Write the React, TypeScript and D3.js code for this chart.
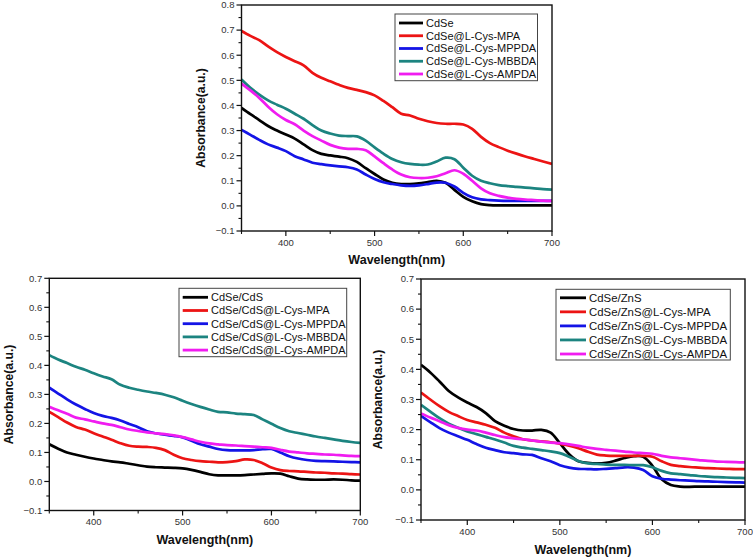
import React from "react";
import * as d3 from "d3";

// ---------- DATA ----------
const wavelengths = [350,360,370,380,390,400,410,420,430,440,450,460,470,480,490,500,510,520,530,540,550,560,570,580,590,600,610,620,630,640,650,660,670,680,690,700];

const xTicks = [400, 500, 600, 700];

// Top panel: CdSe
const cdseNames = ["CdSe", "CdSe@L-Cys-MPA", "CdSe@L-Cys-MPPDA", "CdSe@L-Cys-MBBDA", "CdSe@L-Cys-AMPDA"];
const cdse = [0.39,0.365,0.342,0.318,0.30,0.284,0.268,0.245,0.222,0.207,0.201,0.196,0.19,0.175,0.15,0.127,0.105,0.092,0.087,0.087,0.09,0.095,0.1,0.092,0.064,0.036,0.018,0.007,0.003,0.002,0.002,0.002,0.002,0.002,0.002,0.002];
const cdseMPA = [0.697,0.677,0.66,0.635,0.612,0.593,0.576,0.56,0.53,0.51,0.496,0.482,0.47,0.462,0.453,0.44,0.418,0.393,0.367,0.36,0.347,0.337,0.33,0.327,0.327,0.324,0.307,0.275,0.25,0.234,0.22,0.208,0.197,0.187,0.177,0.167];
const cdseMPPDA = [0.303,0.283,0.263,0.245,0.232,0.218,0.198,0.185,0.172,0.166,0.161,0.157,0.154,0.145,0.125,0.107,0.094,0.087,0.082,0.08,0.082,0.087,0.093,0.092,0.077,0.052,0.034,0.026,0.023,0.021,0.02,0.02,0.02,0.02,0.02,0.02];
const cdseMBBDA = [0.503,0.47,0.443,0.42,0.403,0.387,0.367,0.347,0.322,0.30,0.288,0.28,0.278,0.277,0.26,0.233,0.208,0.187,0.174,0.167,0.164,0.165,0.177,0.192,0.186,0.152,0.12,0.10,0.09,0.083,0.079,0.076,0.073,0.07,0.067,0.065];
const cdseAMPDA = [0.487,0.46,0.43,0.395,0.365,0.342,0.325,0.30,0.278,0.26,0.243,0.232,0.227,0.227,0.222,0.197,0.17,0.145,0.125,0.114,0.111,0.112,0.118,0.13,0.142,0.128,0.10,0.07,0.05,0.04,0.033,0.028,0.025,0.023,0.021,0.02];

// Bottom-left panel: CdSe/CdS
const cdsNames = ["CdSe/CdS", "CdSe/CdS@L-Cys-MPA", "CdSe/CdS@L-Cys-MPPDA", "CdSe/CdS@L-Cys-MBBDA", "CdSe/CdS@L-Cys-AMPDA"];
const cds = [0.128,0.113,0.1,0.092,0.085,0.079,0.074,0.069,0.066,0.061,0.056,0.051,0.049,0.048,0.047,0.045,0.04,0.033,0.025,0.021,0.021,0.021,0.022,0.024,0.026,0.028,0.027,0.018,0.01,0.007,0.006,0.006,0.007,0.006,0.004,0.003];
const cdsMPA = [0.24,0.222,0.203,0.188,0.179,0.166,0.155,0.144,0.132,0.123,0.12,0.119,0.116,0.108,0.092,0.08,0.074,0.07,0.068,0.066,0.067,0.07,0.076,0.074,0.063,0.048,0.039,0.036,0.035,0.033,0.031,0.03,0.028,0.027,0.025,0.024];
const cdsMPPDA = [0.323,0.303,0.283,0.265,0.25,0.236,0.226,0.219,0.21,0.198,0.187,0.173,0.166,0.161,0.157,0.152,0.14,0.128,0.12,0.112,0.108,0.107,0.107,0.108,0.111,0.112,0.1,0.087,0.079,0.074,0.071,0.07,0.069,0.068,0.067,0.066];
const cdsMBBDA = [0.435,0.42,0.408,0.395,0.385,0.373,0.362,0.352,0.333,0.323,0.316,0.31,0.305,0.299,0.29,0.278,0.267,0.257,0.248,0.24,0.238,0.234,0.232,0.229,0.214,0.199,0.184,0.173,0.167,0.161,0.155,0.15,0.145,0.14,0.136,0.133];
const cdsAMPDA = [0.257,0.245,0.233,0.22,0.214,0.207,0.2,0.195,0.187,0.179,0.174,0.169,0.166,0.163,0.159,0.153,0.145,0.137,0.131,0.128,0.125,0.124,0.122,0.12,0.118,0.116,0.109,0.103,0.1,0.097,0.095,0.093,0.092,0.09,0.088,0.087];

// Bottom-right panel: CdSe/ZnS
const znsNames = ["CdSe/ZnS", "CdSe/ZnS@L-Cys-MPA", "CdSe/ZnS@L-Cys-MPPDA", "CdSe/ZnS@L-Cys-MBBDA", "CdSe/ZnS@L-Cys-AMPDA"];
const zns = [0.415,0.39,0.36,0.328,0.307,0.29,0.275,0.255,0.228,0.213,0.202,0.197,0.197,0.199,0.19,0.155,0.118,0.095,0.09,0.088,0.09,0.097,0.106,0.112,0.11,0.08,0.035,0.016,0.011,0.01,0.011,0.011,0.011,0.011,0.011,0.011];
const znsMPA = [0.323,0.3,0.278,0.259,0.245,0.232,0.224,0.216,0.206,0.19,0.178,0.168,0.164,0.161,0.158,0.153,0.147,0.138,0.127,0.117,0.114,0.113,0.113,0.113,0.113,0.11,0.095,0.083,0.079,0.076,0.074,0.072,0.071,0.07,0.069,0.069];
const znsMPPDA = [0.246,0.225,0.205,0.19,0.178,0.166,0.152,0.14,0.132,0.125,0.122,0.118,0.116,0.105,0.095,0.082,0.074,0.07,0.069,0.068,0.07,0.072,0.075,0.074,0.066,0.045,0.037,0.034,0.032,0.031,0.029,0.028,0.027,0.026,0.025,0.024];
const znsMBBDA = [0.282,0.26,0.238,0.22,0.206,0.194,0.185,0.176,0.167,0.157,0.146,0.14,0.136,0.132,0.128,0.122,0.11,0.096,0.088,0.086,0.084,0.083,0.083,0.082,0.082,0.075,0.063,0.055,0.052,0.049,0.046,0.044,0.042,0.041,0.04,0.039];
const znsAMPDA = [0.254,0.24,0.228,0.215,0.206,0.2,0.197,0.19,0.182,0.175,0.171,0.168,0.164,0.16,0.157,0.155,0.151,0.146,0.14,0.136,0.133,0.13,0.127,0.124,0.122,0.12,0.113,0.108,0.105,0.102,0.099,0.096,0.094,0.093,0.092,0.091];

// ---------- STYLE ----------
const COLORS = ["#000000", "#ec1414", "#1414e6", "#1c8480", "#f01cf0"];
const FONT = "'Liberation Sans', Arial, sans-serif";

type Panel = {
  left: number; right: number; top: number; bottom: number;
  yMax: number;
  names: string[];
  series: number[][];
  legend: { x0: number; x1: number; y0: number; y1: number; firstY: number; step: number; lineX0: number; lineX1: number; textX: number; fontSize: number };
  yLabelX: number;
  xLabelY: number;
};

const panels: Panel[] = [
  {
    left: 241.5, right: 552, top: 5, bottom: 231, yMax: 0.8,
    names: cdseNames, series: [cdse, cdseMPA, cdseMPPDA, cdseMBBDA, cdseAMPDA],
    legend: { x0: 395, x1: 537.5, y0: 14, y1: 80.7, firstY: 23, step: 12.75, lineX0: 399, lineX1: 423, textX: 426, fontSize: 11 },
    yLabelX: 201, xLabelY: 264,
  },
  {
    left: 49.3, right: 360.3, top: 278.3, bottom: 510.5, yMax: 0.7,
    names: cdsNames, series: [cds, cdsMPA, cdsMPPDA, cdsMBBDA, cdsAMPDA],
    legend: { x0: 179, x1: 346.7, y0: 288.3, y1: 356.7, firstY: 297.3, step: 13.2, lineX0: 182.7, lineX1: 208, textX: 211, fontSize: 11 },
    yLabelX: 8.5, xLabelY: 544,
  },
  {
    left: 421, right: 745, top: 279, bottom: 520, yMax: 0.7,
    names: znsNames, series: [zns, znsMPA, znsMPPDA, znsMBBDA, znsAMPDA],
    legend: { x0: 556, x1: 730.3, y0: 289.3, y1: 360, firstY: 297.8, step: 14.05, lineX0: 560, lineX1: 586, textX: 589, fontSize: 11.4 },
    yLabelX: 378, xLabelY: 554,
  },
];

function PanelView({ p }: { p: Panel }) {
  const x = d3.scaleLinear().domain([350, 700]).range([p.left, p.right]);
  const y = d3.scaleLinear().domain([-0.1, p.yMax]).range([p.bottom, p.top]);
  const line = d3
    .line<number>()
    .x((_, i) => x(wavelengths[i]))
    .y((v) => y(v))
    .curve(d3.curveCatmullRom.alpha(0.5));

  const yMajor = d3.range(-0.1, p.yMax + 0.0001, 0.1).map((v) => Math.round(v * 10) / 10);
  const yMinor = d3.range(-0.05, p.yMax, 0.1).map((v) => Math.round(v * 100) / 100);
  const xMinor = [350, 450, 550, 650];
  const fmt = d3.format(".1f");

  const lg = p.legend;
  return (
    <g>
      <defs>
        <clipPath id={`clip-${p.left}`}>
          <rect x={p.left} y={p.top} width={p.right - p.left} height={p.bottom - p.top} />
        </clipPath>
      </defs>
      <g clipPath={`url(#clip-${p.left})`}>
        {p.series.map((s, i) => (
          <path key={i} d={line(s) || ""} fill="none" stroke={COLORS[i]} strokeWidth={2.7} strokeLinejoin="round" />
        ))}
      </g>
      <rect x={p.left} y={p.top} width={p.right - p.left} height={p.bottom - p.top} fill="none" stroke="#111" strokeWidth={1.4} />
      {/* y ticks */}
      {yMajor.map((v) => (
        <g key={"ym" + v}>
          <line x1={p.left - 5} x2={p.left} y1={y(v)} y2={y(v)} stroke="#111" strokeWidth={1.2} />
          <text x={p.left - 7} y={y(v)} dy="0.35em" textAnchor="end" fontSize={9.5} fill="#333" fontFamily={FONT}>
            {fmt(v)}
          </text>
        </g>
      ))}
      {yMinor.map((v) => (
        <line key={"yn" + v} x1={p.left - 3} x2={p.left} y1={y(v)} y2={y(v)} stroke="#111" strokeWidth={1.1} />
      ))}
      {/* x ticks */}
      {xTicks.map((v) => (
        <g key={"xm" + v}>
          <line x1={x(v)} x2={x(v)} y1={p.bottom} y2={p.bottom + 5} stroke="#111" strokeWidth={1.2} />
          <text x={x(v)} y={p.bottom + 14.5} textAnchor="middle" fontSize={9.5} fill="#333" fontFamily={FONT}>
            {v}
          </text>
        </g>
      ))}
      {xMinor.map((v) => (
        <line key={"xn" + v} x1={x(v)} x2={x(v)} y1={p.bottom} y2={p.bottom + 3} stroke="#111" strokeWidth={1.1} />
      ))}
      {/* axis titles */}
      <text
        transform={`translate(${p.yLabelX},${(p.top + p.bottom) / 2}) rotate(-90)`}
        textAnchor="middle"
        dominantBaseline="central"
        fontSize={12.2}
        fontWeight="bold"
        fontFamily={FONT}
        fill="#111"
      >
        Absorbance(a.u.)
      </text>
      <text x={(p.left + p.right) / 2} y={p.xLabelY} textAnchor="middle" fontSize={12.5} fontWeight="bold" fontFamily={FONT} fill="#111">
        Wavelength(nm)
      </text>
      {/* legend */}
      <rect x={lg.x0} y={lg.y0} width={lg.x1 - lg.x0} height={lg.y1 - lg.y0} fill="#fff" stroke="#444" strokeWidth={1} />
      {p.names.map((n, i) => {
        const yy = lg.firstY + i * lg.step;
        return (
          <g key={n}>
            <line x1={lg.lineX0} x2={lg.lineX1} y1={yy} y2={yy} stroke={COLORS[i]} strokeWidth={2.8} />
            <text x={lg.textX} y={yy} dy="0.35em" fontSize={lg.fontSize} fill="#111" fontFamily={FONT}>
              {n}
            </text>
          </g>
        );
      })}
    </g>
  );
}

export default function App() {
  return (
    <svg
      width={753}
      height={558}
      viewBox="0 0 753 558"
      style={{ position: "absolute", left: 0, top: 0, background: "#fff" }}
    >
      <rect x={0} y={0} width={753} height={558} fill="#fff" />
      {panels.map((p, i) => (
        <PanelView key={i} p={p} />
      ))}
    </svg>
  );
}
